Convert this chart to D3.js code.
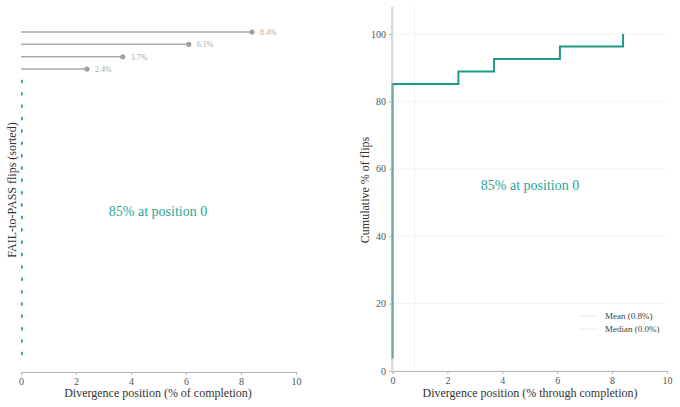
<!DOCTYPE html>
<html>
<head>
<meta charset="utf-8">
<script src="https://cdn.jsdelivr.net/npm/d3@7"></script>
<style>
  body { margin: 0; background: #fff; }
  svg text { font-family: "Liberation Serif", "DejaVu Serif", serif !important; }
  .axis path, .axis line { stroke: #b5b5b5; }
  .axis text { fill: #555; font-size: 10px; }
</style>
</head>
<body>
<div id="chartArea"></div>
<script>
// divergence positions (% of completion), sorted ascending
const positions = [0, 0, 0, 0, 0, 0, 0, 0, 0, 0, 0, 0, 0, 0, 0, 0, 0, 0, 0, 0, 0, 0, 0, 2.4, 3.7, 6.1, 8.4];
const xTicks = [0, 2, 4, 6, 8, 10];
const yTicksCum = [0, 20, 40, 60, 80, 100];
const meanPos = 0.8;
const medianPos = 0.0;
const annotText = "85% at position 0";

const teal = "#1f9a8a";
const serif = "Liberation Serif";
const W = 680, H = 407;

const svg = d3.select("#chartArea").append("svg")
    .attr("width", W)
    .attr("height", H)
    .attr("font-family", serif);

// ---------- left panel: sorted lollipops ----------
const xL = d3.scaleLinear().domain([0, 10]).range([21, 296]);
const yL = d3.scaleLinear().domain([-1.5, 26]).range([372, 32]);

svg.append("defs").append("clipPath").attr("id", "clipL")
    .append("rect").attr("x", 21).attr("y", 0).attr("width", 280).attr("height", 372);

const rows = positions.map((p, i) => ({ p, i }));
const left = svg.append("g").attr("clip-path", "url(#clipL)");

left.selectAll("line.stem")
    .data(rows.filter(d => d.p > 0))
    .enter().append("line")
    .attr("class", "stem")
    .attr("x1", xL(0))
    .attr("x2", d => xL(d.p))
    .attr("y1", d => yL(d.i))
    .attr("y2", d => yL(d.i))
    .style("stroke", "#aaa")
    .style("stroke-width", 1.5);

left.selectAll("circle")
    .data(rows)
    .enter().append("circle")
    .attr("cx", d => xL(d.p))
    .attr("cy", d => yL(d.i))
    .attr("r", d => d.p > 0 ? 2.6 : 2)
    .style("fill", d => d.p > 0 ? "#a0a0a0" : "#2aa597");

svg.selectAll("text.val")
    .data(rows.filter(d => d.p > 0))
    .enter().append("text")
    .attr("class", "val")
    .attr("x", d => xL(d.p) + 8)
    .attr("y", d => yL(d.i) + 3)
    .style("font-size", "8px")
    .style("fill", "#aaa")
    .text(d => d.p.toFixed(1) + "%");

const axL = svg.append("g")
    .attr("class", "axis")
    .attr("transform", `translate(0,${372})`)
    .call(d3.axisBottom(xL).tickValues(xTicks).tickSize(3).tickPadding(3).tickFormat(d3.format("d")));
axL.attr("font-family", serif);

svg.append("text")
    .attr("x", 158).attr("y", 397)
    .attr("text-anchor", "middle")
    .style("font-size", "12px").style("fill", "#333")
    .text("Divergence position (% of completion)");

svg.append("text")
    .attr("transform", "translate(16,190) rotate(-90)")
    .attr("text-anchor", "middle")
    .style("font-size", "12px").style("fill", "#333")
    .text("FAIL-to-PASS flips (sorted)");

svg.append("text")
    .attr("x", 158).attr("y", 216)
    .attr("text-anchor", "middle")
    .style("font-size", "14px").style("fill", "#2aa597")
    .text(annotText);

// ---------- right panel: cumulative ----------
const xR = d3.scaleLinear().domain([0, 10]).range([392.5, 667]);
const yR = d3.scaleLinear().domain([0, 108]).range([371, 7]);

svg.append("g").selectAll("line")
    .data(yTicksCum)
    .enter().append("line")
    .attr("x1", xR(0)).attr("x2", xR(10))
    .attr("y1", d => yR(d)).attr("y2", d => yR(d))
    .style("stroke", "#f4f4f4");

// mean / median reference lines
svg.append("line")
    .attr("x1", xR(meanPos)).attr("x2", xR(meanPos))
    .attr("y1", yR(0)).attr("y2", 7)
    .style("stroke", "#f6f0eb").style("stroke-width", 1);
svg.append("line")
    .attr("x1", xR(medianPos) + 1).attr("x2", xR(medianPos) + 1)
    .attr("y1", yR(0)).attr("y2", 7)
    .style("stroke", "#eef2f2").style("stroke-width", 1);

const n = positions.length;
const cum = positions.map((p, i) => ({ x: p, y: (i + 1) / n * 100 }));

svg.append("path")
    .datum(cum)
    .attr("d", d3.line().x(d => xR(d.x)).y(d => yR(d.y)).curve(d3.curveStepAfter))
    .style("fill", "none")
    .style("stroke", teal)
    .style("stroke-width", 2);

svg.append("g")
    .attr("class", "axis")
    .attr("transform", `translate(0,${371})`)
    .call(d3.axisBottom(xR).tickValues(xTicks).tickSize(3).tickPadding(3).tickFormat(d3.format("d")))
    .attr("font-family", serif);

const axY = svg.append("g")
    .attr("class", "axis")
    .attr("transform", `translate(${392},0)`)
    .call(d3.axisLeft(yR).tickValues(yTicksCum).tickSize(3).tickPadding(3).tickSizeOuter(0))
    .attr("font-family", serif);
axY.select(".domain").attr("d", `M0,7V${371}`);

svg.append("text")
    .attr("x", 530).attr("y", 397)
    .attr("text-anchor", "middle")
    .style("font-size", "12px").style("fill", "#333")
    .text("Divergence position (% through completion)");

svg.append("text")
    .attr("transform", "translate(369,190) rotate(-90)")
    .attr("text-anchor", "middle")
    .style("font-size", "12px").style("fill", "#333")
    .text("Cumulative % of flips");

svg.append("text")
    .attr("x", 530).attr("y", 190)
    .attr("text-anchor", "middle")
    .style("font-size", "14px").style("fill", "#2aa597")
    .text(annotText);

// legend
const legendItems = [
    { label: `Mean (${meanPos.toFixed(1)}%)`, color: "#f1e6df" },
    { label: `Median (${medianPos.toFixed(1)}%)`, color: "#e9eeee" }
];
const legend = svg.append("g").attr("transform", "translate(580,316)");
legend.selectAll("line")
    .data(legendItems)
    .enter().append("line")
    .attr("x1", 0).attr("x2", 18)
    .attr("y1", (d, i) => i * 13).attr("y2", (d, i) => i * 13)
    .style("stroke", d => d.color);
legend.selectAll("text")
    .data(legendItems)
    .enter().append("text")
    .attr("x", 25).attr("y", (d, i) => i * 13 + 3)
    .style("font-size", "9px").style("fill", "#444")
    .text(d => d.label);
</script>
</body>
</html>
